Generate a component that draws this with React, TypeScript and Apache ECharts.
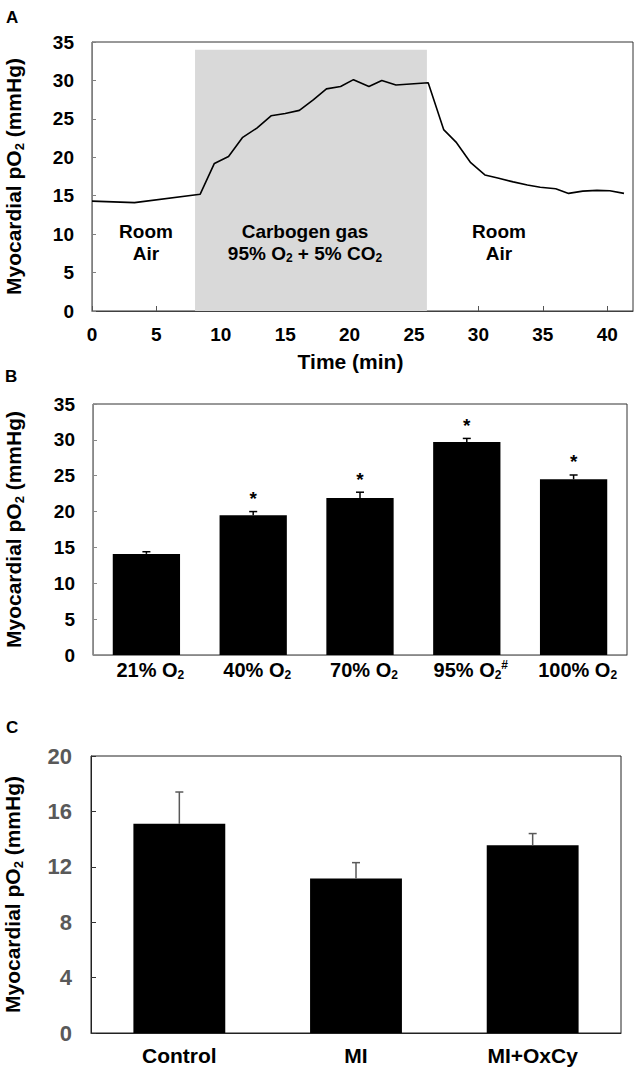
import React, { useEffect, useRef } from 'react';
import * as echarts from 'echarts';

// Panel A: continuous myocardial pO2 trace
const timeMin = [0, 3.3, 8.4, 9.5, 10.6, 11.7, 12.8, 13.9, 15, 16.1, 17.2, 18.2, 19.3, 20.3, 21.5, 22.5, 23.6, 26.1, 27.3, 28.3, 29.4, 30.5, 31.5, 32.7, 33.8, 34.8, 36, 37, 38.1, 39.2, 40.2, 41.3];
const po2Trace = [14.3, 14.1, 15.2, 19.2, 20.1, 22.6, 23.8, 25.4, 25.7, 26.1, 27.5, 28.9, 29.2, 30.1, 29.2, 30.0, 29.4, 29.7, 23.6, 21.9, 19.3, 17.7, 17.3, 16.8, 16.4, 16.1, 15.9, 15.3, 15.6, 15.7, 15.65, 15.3];
const carbogenStart = 8;
const carbogenEnd = 26;
const carbogenTop = 34;

// Panel B: O2 concentrations
const catsB = ['21% O2', '40% O2', '70% O2', '95% O2#', '100% O2'];
const meanB = [14.1, 19.5, 21.9, 29.7, 24.5];
const semB = [0.3, 0.5, 0.8, 0.5, 0.6];
const sigB = ['', '*', '*', '*', '*'];

// Panel C: groups
const catsC = ['Control', 'MI', 'MI+OxCy'];
const meanC = [15.1, 11.15, 13.55];
const semC = [2.3, 1.15, 0.85];

const ticksA = { min: 0, max: 35, interval: 5 };
const ticksB = { min: 0, max: 35, interval: 5 };
const ticksC = { min: 0, max: 20, interval: 4 };

const ARIAL = '"Liberation Sans", Arial, sans-serif';

const richSub = (size: number, color: string) => ({
  sub: { fontSize: Math.round(size * 0.62), fontWeight: 'bold', fontFamily: ARIAL, color, padding: [Math.round(size * 0.55), 0, 0, 0] },
  sup: { fontSize: Math.round(size * 0.62), fontWeight: 'bold', fontFamily: ARIAL, color, padding: [0, 0, Math.round(size * 0.45), 0] },
});

const fmtO2 = (s: string) => s.replace('O2#', 'O{sub|2}{sup|#}').replace('O2', 'O{sub|2}');

export default function App() {
  const ref = useRef<HTMLDivElement>(null);
  useEffect(() => {
    if (!ref.current) return;
    const chart = echarts.init(ref.current, null, { renderer: 'svg' });
    const yName = 'Myocardial pO{sub|2} (mmHg)';
    const yNameStyle = { color: '#000', fontWeight: 'bold', fontSize: 21, fontFamily: ARIAL, rich: richSub(21, '#000') };
    const errRender = (sig: string[], color: string, cap: number) =>
      (params: any, api: any) => {
        const i = api.value(0);
        const base = api.coord([i, api.value(1)]);
        const top = api.coord([i, api.value(2)]);
        const children: any[] = [
          { type: 'line', shape: { x1: base[0], y1: base[1], x2: top[0], y2: top[1] }, style: { stroke: color, lineWidth: 1.5 } },
          { type: 'line', shape: { x1: top[0] - cap, y1: top[1], x2: top[0] + cap, y2: top[1] }, style: { stroke: color, lineWidth: 1.5 } },
        ];
        if (sig[i]) {
          children.push({
            type: 'text', x: top[0], y: top[1] - 13,
            style: { text: sig[i], fill: '#000', font: 'bold 19px ' + ARIAL, textAlign: 'center', textVerticalAlign: 'middle' },
          });
        }
        return { type: 'group', children };
      };
    const annot = (x: number, text: string) => ({
      type: 'text', x, y: 242, z: 10,
      style: {
        text, font: 'bold 19px ' + ARIAL, fill: '#000', textAlign: 'center', textVerticalAlign: 'middle',
        lineHeight: 22, rich: richSub(19, '#000'),
      },
    });

    const option: any = {
      animation: false,
      backgroundColor: '#fff',
      grid: [
        { left: 92, top: 42, width: 541, height: 269, show: true, borderColor: '#333', borderWidth: 1, outerBoundsMode: 'none', containLabel: false },
        { left: 93, top: 404, width: 534, height: 251, show: true, borderColor: '#333', borderWidth: 1, outerBoundsMode: 'none', containLabel: false },
        { left: 91, top: 756, width: 530, height: 277, show: true, borderColor: '#222', borderWidth: 1, outerBoundsMode: 'none', containLabel: false },
      ],
      xAxis: [
        {
          gridIndex: 0, type: 'value', min: 0, max: 42, interval: 5,
          axisLine: { show: true, onZero: false, lineStyle: { color: '#404040', width: 1 } },
          axisTick: { show: true, inside: true, length: 5, lineStyle: { color: '#555' } },
          axisLabel: { showMaxLabel: false, color: '#000', fontWeight: 'bold', fontSize: 19, fontFamily: ARIAL, margin: 14 },
          splitLine: { show: false },
          name: 'Time (min)', nameLocation: 'middle', nameGap: 40,
          nameTextStyle: { color: '#000', fontWeight: 'bold', fontSize: 21, fontFamily: ARIAL, padding: [0, 24, 0, 0] },
        },
        {
          gridIndex: 1, type: 'category', data: catsB,
          axisLine: { show: true, lineStyle: { color: '#888', width: 1 } },
          axisTick: { show: false },
          axisLabel: {
            interval: 0, margin: 3, color: '#000', fontWeight: 'bold', fontSize: 20, fontFamily: ARIAL,
            padding: [0, 0, 0, 8],
            formatter: (v: string) => fmtO2(v), rich: richSub(20, '#000'),
          },
        },
        {
          gridIndex: 2, type: 'category', data: catsC,
          axisLine: { show: true, lineStyle: { color: '#222', width: 1 } },
          axisTick: { show: false },
          axisLabel: { interval: 0, margin: 12, color: '#000', fontWeight: 'bold', fontSize: 21, fontFamily: ARIAL },
        },
      ],
      yAxis: [
        {
          gridIndex: 0, type: 'value', ...ticksA,
          axisLine: { show: true, lineStyle: { color: '#808080', width: 1 } },
          axisTick: { show: true, inside: true, length: 4, lineStyle: { color: '#808080' } },
          splitLine: { show: false },
          axisLabel: { color: '#000', fontWeight: 'bold', fontSize: 19, fontFamily: ARIAL, margin: 18 },
          name: yName, nameLocation: 'middle', nameGap: 66, nameTextStyle: yNameStyle,
        },
        {
          gridIndex: 1, type: 'value', ...ticksB,
          axisLine: { show: true, lineStyle: { color: '#888', width: 1 } },
          axisTick: { show: true, inside: true, length: 4, lineStyle: { color: '#888' } },
          splitLine: { show: false },
          axisLabel: { color: '#000', fontWeight: 'bold', fontSize: 19, fontFamily: ARIAL, margin: 18 },
          name: yName, nameLocation: 'middle', nameGap: 67, nameTextStyle: yNameStyle,
        },
        {
          gridIndex: 2, type: 'value', ...ticksC,
          axisLine: { show: true, lineStyle: { color: '#222', width: 1 } },
          axisTick: { show: true, inside: true, length: 5, lineStyle: { color: '#333' } },
          splitLine: { show: false },
          axisLabel: { color: '#595959', fontWeight: 'bold', fontSize: 22, fontFamily: ARIAL, margin: 19 },
          name: yName, nameLocation: 'middle', nameGap: 66, nameTextStyle: yNameStyle,
        },
      ],
      series: [
        {
          type: 'line', xAxisIndex: 0, yAxisIndex: 0,
          data: timeMin.map((t, i) => [t, po2Trace[i]]),
          showSymbol: false, symbol: 'none',
          lineStyle: { color: '#000', width: 1.6 },
          markArea: {
            silent: true,
            itemStyle: { color: '#d9d9d9' },
            data: [[{ coord: [carbogenStart, 0] }, { coord: [carbogenEnd, carbogenTop] }]],
          },
          z: 3,
        },
        {
          type: 'bar', xAxisIndex: 1, yAxisIndex: 1, data: meanB, barWidth: '63%',
          itemStyle: { color: '#000' },
        },
        {
          type: 'custom', xAxisIndex: 1, yAxisIndex: 1, z: 5,
          data: meanB.map((m, i) => [i, m, m + semB[i]]),
          renderItem: errRender(sigB, '#000', 4),
        },
        {
          type: 'bar', xAxisIndex: 2, yAxisIndex: 2, data: meanC, barWidth: '52%',
          itemStyle: { color: '#000' },
        },
        {
          type: 'custom', xAxisIndex: 2, yAxisIndex: 2, z: 5,
          data: meanC.map((m, i) => [i, m, m + semC[i]]),
          renderItem: errRender(['', '', ''], '#595959', 4),
        },
      ],
      graphic: [
        { type: 'text', x: 6, y: 17.5, style: { text: 'A', font: 'bold 17px ' + ARIAL, fill: '#000', textVerticalAlign: 'middle' } },
        { type: 'text', x: 5, y: 376, style: { text: 'B', font: 'bold 17px ' + ARIAL, fill: '#000', textVerticalAlign: 'middle' } },
        { type: 'text', x: 6, y: 727, style: { text: 'C', font: 'bold 17px ' + ARIAL, fill: '#000', textVerticalAlign: 'middle' } },
        annot(146, 'Room\nAir'),
        annot(305, 'Carbogen gas\n95% O{sub|2} + 5% CO{sub|2}'),
        annot(499, 'Room\nAir'),
      ],
    };
    chart.setOption(option);
    return () => chart.dispose();
  }, []);
  return <div ref={ref} style={{ position: 'fixed', left: 0, top: 0, width: 638, height: 1074, background: '#fff' }} />;
}
